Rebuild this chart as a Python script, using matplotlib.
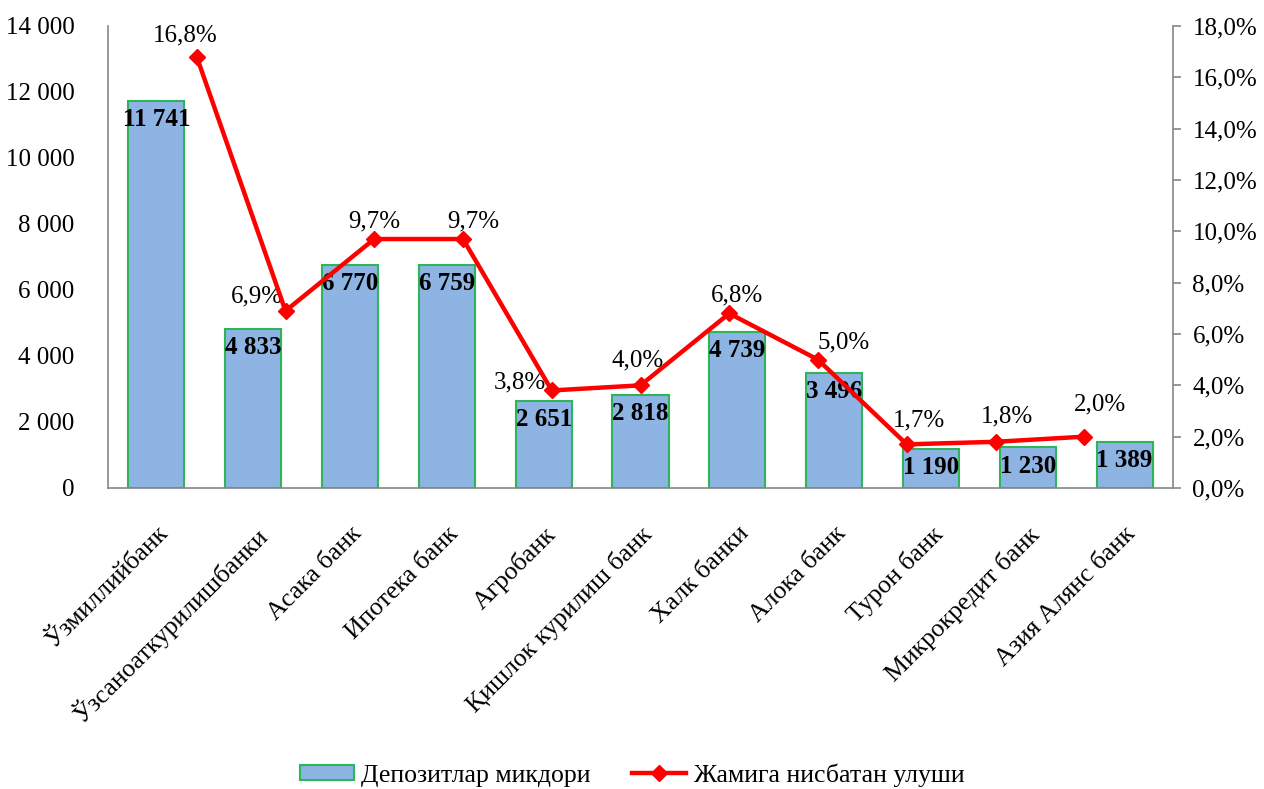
import matplotlib
matplotlib.use("Agg")
import matplotlib.pyplot as plt
import matplotlib.ticker as mticker
import numpy as np

plt.rcParams['font.family'] = ['Liberation Serif', 'DejaVu Serif']

banks = ["Ўзмиллийбанк", "Ўзсаноаткурилишбанки", "Асака банк", "Ипотека банк",
         "Агробанк", "Қишлок курилиш банк", "Халк банки", "Алока банк",
         "Турон банк", "Микрокредит банк", "Азия Алянс банк"]
deposits = [11741, 4833, 6770, 6759, 2651, 2818, 4739, 3496, 1190, 1230, 1389]
shares = [16.8, 6.9, 9.7, 9.7, 3.8, 4.0, 6.8, 5.0, 1.7, 1.8, 2.0]

left_ticks = [0, 2000, 4000, 6000, 8000, 10000, 12000, 14000]
right_ticks = [0, 2, 4, 6, 8, 10, 12, 14, 16, 18]

# label offsets for percentage labels (pixels: dx, dy)
pct_offsets = [(-12, 21), (-29, 14), (0, 18), (10, 18), (-32, 8), (-3, 25),
               (8, 18), (26, 17), (12, 24), (11, 25), (16, 32)]

W, H = 1264, 789
FS = 18
fig = plt.figure(figsize=(W / 100, H / 100), dpi=100)
ax = fig.add_axes([108 / W, 1 - 488 / H, (1173 - 108) / W, (488 - 26) / H])

n = len(banks)
x = np.arange(n)
bar_color = "#8EB4E3"
edge_color = "#2EB55A"
bars = ax.bar(x, deposits, width=0.58, color=bar_color, edgecolor=edge_color,
              linewidth=1.5, label="Депозитлар микдори", zorder=2)
ax.set_xlim(-0.5, n - 0.5)
ax.set_ylim(0, 14000)
ax.set_yticks(left_ticks)
ax.yaxis.set_major_formatter(mticker.FuncFormatter(lambda v, p: f"{int(v):,}".replace(",", " ")))
ax.set_xticks(x)
ax.set_xticklabels(banks, rotation=45, ha='right', va='top', rotation_mode='anchor', fontsize=18.5)
ax.tick_params(axis='x', length=0, pad=25)
ax.tick_params(axis='y', length=0, labelsize=FS, pad=24)
for s in ['top', 'right']:
    ax.spines[s].set_visible(False)
for s in ['left', 'bottom']:
    ax.spines[s].set_color("#868686")
    ax.spines[s].set_linewidth(1.2)

for xi, v in zip(x, deposits):
    ax.annotate(f"{v:,}".replace(",", " "), (xi, v), xytext=(0, -13.5),
                textcoords='offset points', ha='center', va='center',
                fontsize=FS, fontweight='bold', zorder=5)

ax2 = ax.twinx()
ax2.set_ylim(0, 18)
ax2.set_xlim(-0.5, n - 0.5)
ax2.set_yticks(right_ticks)
ax2.yaxis.set_major_formatter(mticker.FuncFormatter(lambda v, p: f"{v:.1f}%".replace(".", ",")))
ax2.tick_params(axis='y', length=6, width=1.2, color="#868686", labelsize=FS, pad=8, direction='out')
for s in ['top', 'left', 'bottom']:
    ax2.spines[s].set_visible(False)
ax2.spines['right'].set_color("#868686")
ax2.spines['right'].set_linewidth(1.2)

# line on secondary category axis (12 slots, points at slot boundaries 1..11)
lx = -0.5 + n * (x + 1) / (n + 1)
line, = ax2.plot(lx, shares, color="#FF0000", linewidth=3.2, marker='D',
                 markersize=8, markerfacecolor="#FF0000", markeredgecolor="#FF0000",
                 label="Жамига нисбатан улуши", zorder=4)
for xi, v, (dx, dy) in zip(lx, shares, pct_offsets):
    ax2.annotate(f"{v:.1f}%".replace(".", ","), (xi, v), xytext=(dx * 0.72, dy * 0.72),
                 textcoords='offset points', ha='center', va='center', fontsize=FS)

fig.legend(handles=[bars, line], labels=["Депозитлар микдори", "Жамига нисбатан улуши"],
           loc='center', bbox_to_anchor=(0.5, 1 - 775 / H), ncol=2, frameon=False,
           fontsize=18.5, handlelength=2.1, handleheight=0.55, columnspacing=1.6,
           handletextpad=0.3)

fig.savefig("out.png", dpi=100)
